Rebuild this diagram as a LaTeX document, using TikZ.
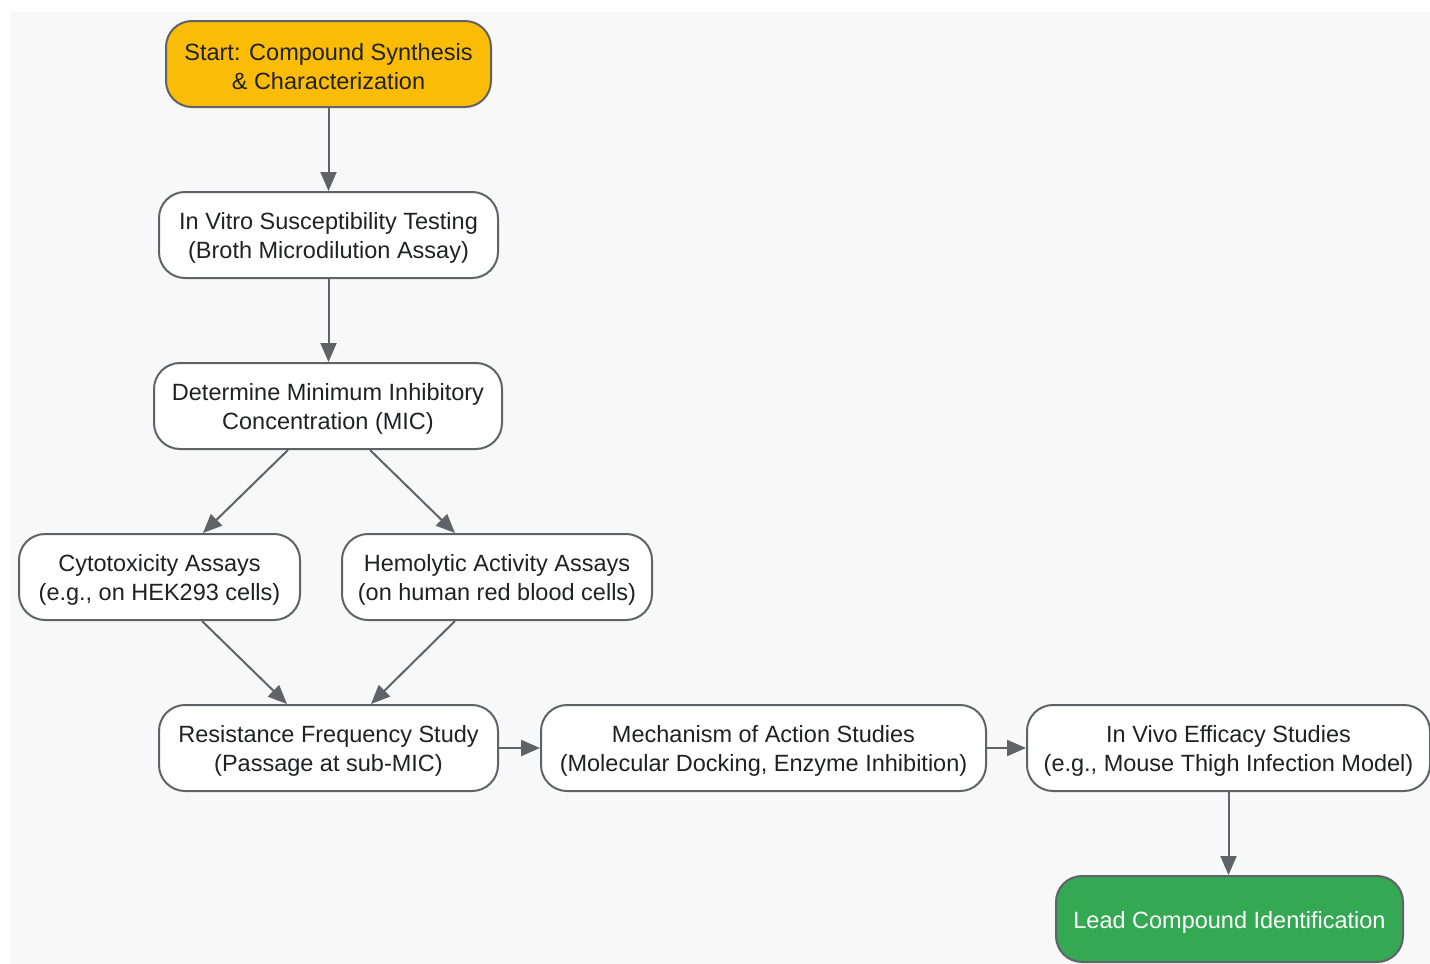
\documentclass[tikz,border=0pt]{standalone}
\usepackage{fontspec}
\setmainfont{Liberation Sans}
\usetikzlibrary{arrows.meta,calc}
\definecolor{bg}{HTML}{F8F8F8}
\definecolor{edge}{HTML}{5F6368}
\definecolor{txt}{HTML}{202124}
\definecolor{gold}{HTML}{FBBC05}
\definecolor{gr}{HTML}{34A853}
\begin{document}
\begin{tikzpicture}[x=1pt,y=-1pt,
  box/.style={draw=edge,line width=2pt,rounded corners=26pt,fill=white,
    minimum height=86pt,inner sep=0pt},
  lbl/.style={inner sep=0pt,align=center,text=txt,
    font=\fontsize{23.5}{29}\selectfont},
  arr/.style={draw=edge,line width=2pt,-{Triangle[length=19pt,width=16pt]}}]
\useasboundingbox (0,0) rectangle (1430,964);
\fill[bg] (10,12) rectangle (1430,964);
\node[box,fill=gold,minimum width=325pt] (start) at (328.5,64) {};
\node[lbl] (startT) at ([yshift=-3pt]start.center) {Start: Compound Synthesis\\\& Characterization};
\node[box,minimum width=339pt] (vitro) at (328.5,235) {};
\node[lbl] (vitroT) at ([yshift=-3pt]vitro.center) {In Vitro Susceptibility Testing\\(Broth Microdilution Assay)};
\node[box,minimum width=348pt] (mic) at (328,406) {};
\node[lbl] (micT) at ([yshift=-3pt]mic.center) {Determine Minimum Inhibitory\\Concentration (MIC)};
\node[box,minimum width=281pt] (cyto) at (159.5,577) {};
\node[lbl] (cytoT) at ([yshift=-3pt]cyto.center) {Cytotoxicity Assays\\(e.g., on HEK293 cells)};
\node[box,minimum width=310pt] (hemo) at (497,577) {};
\node[lbl] (hemoT) at ([yshift=-3pt]hemo.center) {Hemolytic Activity Assays\\(on human red blood cells)};
\node[box,minimum width=339pt] (res) at (328.5,748) {};
\node[lbl] (resT) at ([yshift=-3pt]res.center) {Resistance Frequency Study\\(Passage at sub-MIC)};
\node[box,minimum width=445pt] (moa) at (763.5,748) {};
\node[lbl] (moaT) at ([yshift=-3pt]moa.center) {Mechanism of Action Studies\\(Molecular Docking, Enzyme Inhibition)};
\node[box,minimum width=403pt] (vivo) at (1228.5,748) {};
\node[lbl] (vivoT) at ([yshift=-3pt]vivo.center) {In Vivo Efficacy Studies\\(e.g., Mouse Thigh Infection Model)};
\node[box,fill=gr,minimum width=347pt] (lead) at (1229.5,919) {};
\node[lbl,text=white] (leadT) at ([yshift=-3pt]lead.center) {Lead Compound Identification};
\draw[arr] (start.south) -- (start.south |- vitro.north);
\draw[arr] (vitro.south) -- (vitro.south |- mic.north);
\draw[arr] ([xshift=-40pt]mic.south) -- ([xshift=43.5pt]cyto.north);
\draw[arr] ([xshift=42pt]mic.south) -- ([xshift=-42pt]hemo.north);
\draw[arr] ([xshift=42.5pt]cyto.south) -- ([xshift=-41.5pt]res.north);
\draw[arr] ([xshift=-42pt]hemo.south) -- ([xshift=42.5pt]res.north);
\draw[arr] (res) -- (moa);
\draw[arr] (moa) -- (vivo);
\draw[arr] (vivo.south) -- (vivo.south |- lead.north);
\end{tikzpicture}
\end{document}
